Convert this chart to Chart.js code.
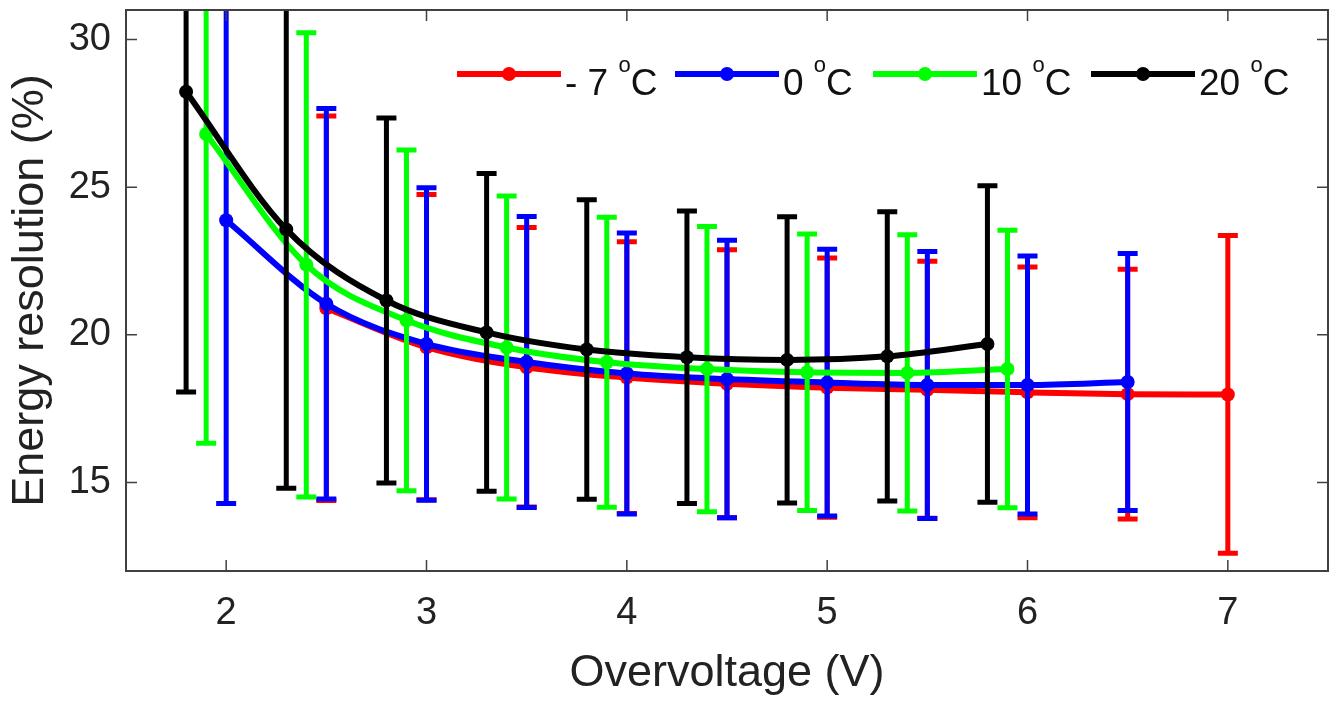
<!DOCTYPE html>
<html>
<head>
<meta charset="utf-8">
<script src="https://cdn.jsdelivr.net/npm/chart.js@4/dist/chart.umd.min.js"></script>
<style>
    html, body { margin: 0; padding: 0; background: #fff; }
    #wrap { width: 1342px; height: 701px; }
</style>
</head>
<body>
<div id="wrap"><canvas id="grafico"></canvas></div>
<script>
// dados
const legendas = ['- 7 ', '0 ', '10 ', '20 '];
const cores = ['#ff0000', '#0000ff', '#00ff00', '#000000'];

const vMenos7 = [2.5, 3, 3.5, 4, 4.5, 5, 5.5, 6, 6.5, 7];
const resMenos7 = [20.9, 19.58, 18.9, 18.55, 18.34, 18.21, 18.14, 18.05, 17.99, 17.98];
const errMenos7 = [6.51, 5.17, 4.73, 4.6, 4.54, 4.39, 4.35, 4.25, 4.23, 5.38];

const vZero = [2, 2.5, 3, 3.5, 4, 4.5, 5, 5.5, 6, 6.5];
const resZero = [23.88, 21.05, 19.69, 19.08, 18.69, 18.5, 18.38, 18.3, 18.3, 18.4];
const errZero = [9.59, 6.61, 5.29, 4.93, 4.76, 4.7, 4.52, 4.52, 4.37, 4.35];

const vDez = [1.9, 2.4, 2.9, 3.4, 3.9, 4.4, 4.9, 5.4, 5.9];
const resDez = [26.8, 22.37, 20.49, 19.57, 19.07, 18.84, 18.73, 18.71, 18.84];
const errDez = [10.47, 7.86, 5.77, 5.13, 4.91, 4.83, 4.68, 4.68, 4.7];

const vVinte = [1.8, 2.3, 2.8, 3.3, 3.8, 4.3, 4.8, 5.3, 5.8];
const resVinte = [28.23, 23.57, 21.16, 20.08, 19.5, 19.24, 19.15, 19.27, 19.69];
const errVinte = [10.17, 8.77, 6.18, 5.38, 5.07, 4.95, 4.85, 4.9, 5.36];

const ticksX = [2, 3, 4, 5, 6, 7];
const ticksY = [15, 20, 25, 30];

const xs = [vMenos7, vZero, vDez, vVinte];
const ys = [resMenos7, resZero, resDez, resVinte];
const errs = [errMenos7, errZero, errDez, errVinte];

const fonte = "'Liberation Sans', Arial, sans-serif";
const corEixo = '#404040';
const posLegenda = [457, 675, 873, 1091];

// barras de erro, desenhadas antes da linha de cada serie
const barrasErro = {
    id: 'barrasErro',
    beforeDatasetDraw(chart, args) {
        const i = args.index;
        const ctx = chart.ctx;
        const sx = chart.scales.x, sy = chart.scales.y;
        const area = chart.chartArea;
        ctx.save();
        ctx.beginPath();
        ctx.rect(area.left, area.top, area.right - area.left, area.bottom - area.top);
        ctx.clip();
        ctx.strokeStyle = cores[i];
        ctx.lineWidth = 5;
        ctx.lineCap = 'butt';
        xs[i].forEach((v, k) => {
            const px = sx.getPixelForValue(v);
            const top = sy.getPixelForValue(ys[i][k] + errs[i][k]);
            const bot = sy.getPixelForValue(ys[i][k] - errs[i][k]);
            ctx.beginPath();
            ctx.moveTo(px, top);
            ctx.lineTo(px, bot);
            ctx.moveTo(px - 10, top);
            ctx.lineTo(px + 10, top);
            ctx.moveTo(px - 10, bot);
            ctx.lineTo(px + 10, bot);
            ctx.stroke();
        });
        ctx.restore();
    }
};

// moldura com marcas para dentro, e legenda
const moldura = {
    id: 'moldura',
    afterDraw(chart) {
        const ctx = chart.ctx;
        const a = chart.chartArea;
        const sx = chart.scales.x, sy = chart.scales.y;
        ctx.save();
        ctx.strokeStyle = corEixo;
        ctx.lineWidth = 2;
        ctx.strokeRect(a.left, a.top, a.right - a.left, a.bottom - a.top);
        ctx.lineWidth = 1.5;
        ctx.beginPath();
        ticksX.forEach(t => {
            const p = sx.getPixelForValue(t);
            ctx.moveTo(p, a.bottom); ctx.lineTo(p, a.bottom - 11);
            ctx.moveTo(p, a.top); ctx.lineTo(p, a.top + 11);
        });
        ticksY.forEach(t => {
            const p = sy.getPixelForValue(t);
            ctx.moveTo(a.left, p); ctx.lineTo(a.left + 11, p);
            ctx.moveTo(a.right, p); ctx.lineTo(a.right - 11, p);
        });
        ctx.stroke();

        // legenda
        const yl = 74;
        ctx.textBaseline = 'alphabetic';
        ctx.textAlign = 'left';
        legendas.forEach((txt, i) => {
            const x = posLegenda[i];
            ctx.strokeStyle = cores[i];
            ctx.fillStyle = cores[i];
            ctx.lineWidth = 6;
            ctx.beginPath();
            ctx.moveTo(x, yl);
            ctx.lineTo(x + 104, yl);
            ctx.stroke();
            ctx.beginPath();
            ctx.arc(x + 52, yl, 7, 0, Math.PI * 2);
            ctx.fill();
            let tx = x + 108;
            ctx.fillStyle = '#111';
            ctx.font = '37px ' + fonte;
            ctx.fillText(txt, tx, 95);
            tx += ctx.measureText(txt).width;
            ctx.font = '22px ' + fonte;
            ctx.fillText('o', tx, 72);
            tx += ctx.measureText('o').width;
            ctx.font = '37px ' + fonte;
            ctx.fillText('C', tx, 95);
        });
        ctx.restore();
    }
};

const ordem = [4, 3, 2, 1];
const datasets = xs.map((xv, i) => ({
    label: legendas[i] + 'oC',
    data: xv.map((v, k) => ({ x: v, y: ys[i][k] })),
    borderColor: cores[i],
    backgroundColor: cores[i],
    borderWidth: 6,
    pointRadius: 7,
    pointBorderWidth: 0,
    pointBackgroundColor: cores[i],
    tension: 0.4,
    cubicInterpolationMode: 'monotone',
    order: ordem[i]
}));

const semPadding = s => {
    s.paddingTop = 0; s.paddingBottom = 0;
    s.paddingLeft = 0; s.paddingRight = 0;
};

const ctx = document.getElementById('grafico').getContext('2d');
const grafico = new Chart(ctx, {
    type: 'line',
    data: { datasets },
    plugins: [barrasErro, moldura],
    options: {
        responsive: true,
        maintainAspectRatio: false,
        devicePixelRatio: 1,
        animation: false,
        layout: { padding: { top: 10, right: 14, left: 0, bottom: 0 } },
        plugins: {
            legend: { display: false },
            tooltip: { enabled: false }
        },
        scales: {
            x: {
                type: 'linear',
                min: 1.5,
                max: 7.5,
                afterBuildTicks: s => { s.ticks = ticksX.map(v => ({ value: v })); },
                afterFit: s => { s.height = 130; semPadding(s); },
                grid: { display: false, drawTicks: false },
                border: { display: false },
                ticks: {
                    padding: 20,
                    color: '#222',
                    font: { family: fonte, size: 38 }
                },
                title: {
                    display: true,
                    text: 'Overvoltage (V)',
                    color: '#222',
                    font: { family: fonte, size: 45 },
                    padding: { top: 0, bottom: 0 }
                }
            },
            y: {
                min: 12,
                max: 31,
                afterBuildTicks: s => { s.ticks = ticksY.map(v => ({ value: v })); },
                afterFit: s => { s.width = 126; semPadding(s); },
                grid: { display: false, drawTicks: false },
                border: { display: false },
                ticks: {
                    padding: 15,
                    color: '#222',
                    font: { family: fonte, size: 38 }
                },
                title: {
                    display: true,
                    text: 'Energy resolution (%)',
                    color: '#222',
                    font: { family: fonte, size: 45 },
                    padding: { top: 4, bottom: 0 }
                }
            }
        }
    }
});
</script>
</body>
</html>
